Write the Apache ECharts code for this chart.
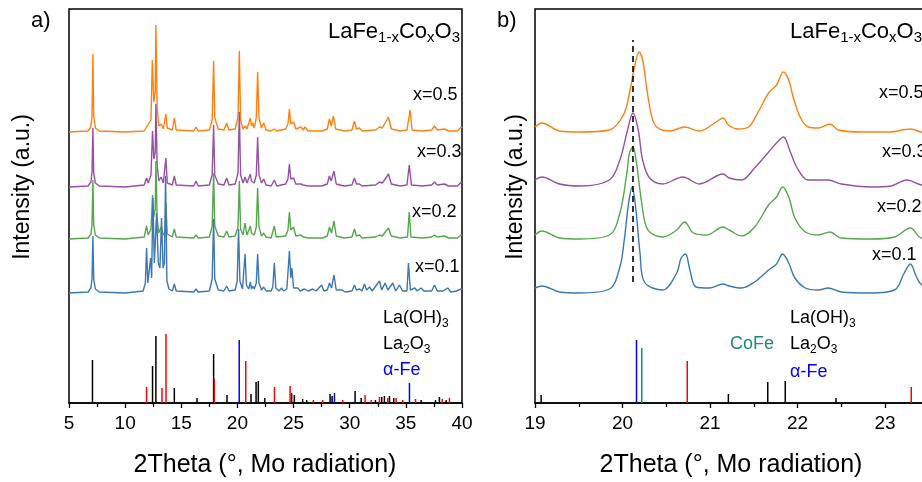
<!DOCTYPE html>
<html>
<head>
<meta charset="utf-8">
<script src="https://cdn.jsdelivr.net/npm/echarts@6/dist/echarts.min.js"></script>
<style>
  html, body { margin: 0; padding: 0; background: #fff; }
  #chart { width: 922px; height: 482px; }
</style>
</head>
<body>
<div id="chart"></div>
<script>
// ---- data (intensity in a.u.; 2theta in degrees) ----
var sampleNames = ['x=0.1', 'x=0.2', 'x=0.3', 'x=0.5']
var sampleColors = ['#3b78b3', '#55a64c', '#9650a2', '#ff8010']
var sampleOffsets = [110, 164, 216, 271]

// panel a) full patterns 5-40 deg
var fullX01 = [[5,0],[6.7,1],[6.95,5],[7.05,14],[7.13,57],[7.2,14],[7.35,4],[7.7,1],[10,0],[11.6,2],[11.8,10],[11.91,45],[12.02,10],[12.15,12],[12.27,35],[12.36,15],[12.47,95],[12.6,30],[12.8,80],[12.95,30],[13.1,25],[13.24,75],[13.38,25],[13.5,30],[13.6,117],[13.72,12],[13.9,4],[14.2,2],[14.38,9],[14.55,2],[16.1,1],[16.31,4],[16.5,1],[17.5,2],[17.75,14],[17.88,74],[17.98,14],[18.3,3],[18.8,2],[19.04,7],[19.25,2],[19.8,3],[19.98,12],[20.1,64],[20.22,12],[20.45,4],[20.68,39],[20.8,8],[21.0,4],[21.15,11],[21.25,4],[21.36,7],[21.5,4],[21.68,10],[21.8,39],[21.92,10],[22.15,3],[22.34,6],[22.55,2],[23.0,2],[23.15,6],[23.29,30],[23.42,5],[23.7,2],[23.94,5],[24.1,2],[24.4,4],[24.63,42],[24.75,15],[24.85,25],[25.0,5],[25.37,5],[25.6,2],[25.96,4],[26.3,2],[26.7,4],[27.0,2],[27.5,8],[27.7,2],[28.0,3],[28.2,10],[28.38,5],[28.6,18],[28.8,3],[29.29,3],[29.6,1],[30.2,2],[30.42,8],[30.6,3],[30.87,4],[31.1,2],[31.31,9],[31.5,3],[31.76,6],[32.0,2],[32.65,12],[32.85,3],[33.15,10],[33.4,3],[33.83,10],[34.1,2],[34.43,8],[34.7,2],[35.1,2],[35.23,30],[35.4,3],[35.8,5],[36.0,2],[36.36,5],[36.6,2],[37.3,2],[37.55,8],[37.8,2],[38.3,2],[38.73,5],[39.0,1],[39.5,2],[39.93,4],[40,3]]
var fullX02 = [[5,0],[6.7,1],[6.95,5],[7.05,14],[7.13,59],[7.2,14],[7.35,4],[7.7,1],[10,0],[11.7,2],[11.91,13],[12.05,4],[12.3,10],[12.44,44],[12.55,22],[12.68,30],[12.74,78],[12.85,20],[13.0,6],[13.2,12],[13.4,4],[13.55,7],[13.63,36],[13.75,5],[14.2,2],[14.38,10],[14.55,2],[16.1,1],[16.31,4],[16.5,1],[17.5,2],[17.75,13],[17.88,66],[17.98,13],[18.3,3],[18.8,2],[19.04,8],[19.25,2],[19.8,3],[20.05,12],[20.17,58],[20.28,10],[20.5,4],[20.68,16],[20.85,4],[21.15,13],[21.25,6],[21.36,8],[21.5,4],[21.68,12],[21.8,51],[21.92,12],[22.15,3],[22.34,6],[22.55,2],[23.0,1],[23.29,13],[23.45,2],[24.3,3],[24.5,9],[24.63,27],[24.75,9],[25.0,12],[25.2,3],[25.67,4],[25.85,2],[26.02,4],[26.3,1],[27.3,1],[27.45,3],[27.6,1],[28.0,3],[28.2,12],[28.38,6],[28.6,18],[28.8,3],[29.5,1],[30.2,2],[30.42,10],[30.6,3],[30.87,4],[31.1,1],[32.3,2],[32.65,4],[32.9,3],[33.1,6],[33.45,11],[33.7,3],[34.5,1],[35.15,2],[35.3,27],[35.45,2],[36.5,1],[37.3,2],[37.55,4],[37.8,2],[38.44,3],[38.8,1],[39.6,1],[39.93,4],[40,4]]
var fullX03 = [[5,0],[6.7,1],[6.95,5],[7.05,14],[7.13,59],[7.2,14],[7.35,4],[7.7,1],[10,0],[11.7,2],[11.91,9],[12.05,4],[12.3,12],[12.44,56],[12.55,28],[12.68,35],[12.74,83],[12.85,22],[13.0,6],[13.2,10],[13.4,4],[13.55,6],[13.63,29],[13.75,4],[14.2,2],[14.38,11],[14.55,2],[16.1,1],[16.31,6],[16.5,1],[17.5,2],[17.75,12],[17.88,62],[17.98,12],[18.3,3],[18.8,2],[19.04,9],[19.25,2],[19.8,3],[20.05,14],[20.17,75],[20.28,12],[20.5,4],[20.68,10],[20.85,4],[21.15,13],[21.25,6],[21.36,8],[21.5,4],[21.68,12],[21.8,50],[21.92,12],[22.15,4],[22.34,8],[22.55,2],[23.0,1],[23.29,7],[23.5,1],[24.3,3],[24.5,8],[24.63,23],[24.75,8],[25.0,9],[25.2,3],[25.67,3],[25.85,2],[26.02,3],[26.3,1],[27.5,1],[28.0,3],[28.19,11],[28.35,6],[28.6,16],[28.8,3],[29.5,1],[30.2,2],[30.42,9],[30.6,3],[30.87,3],[31.1,1],[32.3,2],[32.65,5],[32.9,4],[33.1,7],[33.45,13],[33.7,3],[34.5,1],[35.1,2],[35.3,22],[35.5,2],[36.5,1],[37.3,2],[37.55,5],[37.8,2],[38.44,3],[38.8,1],[39.6,1],[39.93,5],[40,4]]
var fullX05 = [[5,0],[6.7,1],[6.95,5],[7.05,16],[7.13,78],[7.2,16],[7.35,4],[7.7,1],[10,0],[11.7,1],[11.91,5],[12.05,3],[12.3,12],[12.42,72],[12.55,30],[12.68,40],[12.74,107],[12.85,25],[13.0,6],[13.2,8],[13.4,3],[13.55,5],[13.63,18],[13.75,4],[14.2,2],[14.38,14],[14.55,2],[16.1,1],[16.31,5],[16.5,1],[17.5,2],[17.75,12],[17.88,71],[17.98,14],[18.3,3],[18.8,2],[19.04,9],[19.25,2],[19.8,3],[20.05,15],[20.17,81],[20.28,12],[20.5,3],[20.68,6],[20.85,3],[21.15,14],[21.25,6],[21.36,9],[21.5,4],[21.68,14],[21.8,60],[21.92,14],[22.15,4],[22.34,9],[22.55,2],[23.0,1],[23.29,3],[23.5,1],[24.3,3],[24.5,8],[24.63,23],[24.75,8],[25.01,10],[25.2,3],[25.67,5],[25.85,2],[26.02,5],[26.3,1],[27.5,1],[28.0,3],[28.19,13],[28.35,6],[28.55,16],[28.75,3],[29.5,1],[30.2,2],[30.42,11],[30.6,3],[30.87,4],[31.1,1],[32.3,2],[32.65,5],[32.9,4],[33.1,8],[33.45,15],[33.7,3],[34.5,1],[35.1,2],[35.38,22],[35.55,2],[36.5,1],[37.3,2],[37.55,6],[37.8,2],[38.44,3],[38.8,1],[39.6,1],[39.93,5],[40,4]]

// panel b) zoomed patterns 19-24 deg
var zoomX01 = [[19.0,5],[19.08,7],[19.28,1],[19.51,0],[19.85,4],[19.97,26],[20.02,53],[20.07,90],[20.11,106],[20.15,86],[20.2,40],[20.25,11],[20.46,3],[20.62,20],[20.67,35],[20.72,39],[20.77,23],[20.84,6],[21.0,5],[21.15,9],[21.22,7],[21.36,5],[21.51,11],[21.67,23],[21.76,29],[21.83,39],[21.9,30],[21.97,15],[22.09,5],[22.24,3],[22.35,5],[22.5,1],[22.84,0],[23.11,3],[23.22,20],[23.29,29],[23.36,16],[23.42,8],[23.6,2],[24,1]]
var zoomX02 = [[19.0,4],[19.08,8],[19.28,1],[19.51,0],[19.85,4],[19.97,26],[20.05,66],[20.08,86],[20.12,92],[20.16,76],[20.22,36],[20.29,9],[20.46,2],[20.62,9],[20.71,17],[20.81,6],[20.96,4],[21.15,12],[21.22,9],[21.36,3],[21.51,12],[21.67,34],[21.76,42],[21.83,52],[21.9,42],[21.97,21],[22.09,7],[22.24,4],[22.37,7],[22.5,1],[22.84,0],[23.11,2],[23.29,11],[23.42,1],[23.6,1],[24,1]]
var zoomX03 = [[19.0,7],[19.08,10],[19.28,3],[19.51,1],[19.85,7],[19.97,27],[20.05,54],[20.12,74],[20.18,57],[20.23,27],[20.31,9],[20.46,3],[20.69,10],[20.88,3],[21.15,13],[21.22,9],[21.36,7],[21.51,19],[21.67,35],[21.76,44],[21.84,50],[21.91,37],[21.99,20],[22.12,7],[22.24,7],[22.35,7],[22.5,3],[22.84,0],[23.07,1],[23.25,7],[23.42,2],[23.6,1],[24,1]]
var zoomX05 = [[19.0,5],[19.08,9],[19.28,1],[19.51,0],[19.85,2],[20.01,17],[20.08,39],[20.13,62],[20.19,80],[20.23,72],[20.28,42],[20.33,17],[20.39,5],[20.54,1],[20.71,5],[20.88,1],[21.07,10],[21.15,14],[21.21,7],[21.32,3],[21.44,5],[21.55,20],[21.67,39],[21.76,47],[21.84,60],[21.9,52],[21.95,35],[22.03,15],[22.12,5],[22.24,4],[22.37,8],[22.47,2],[22.73,0],[23.04,0],[23.3,3],[23.42,0],[23.6,0],[24,0]]

// reference stick patterns [2theta, relative height]
var laOH3Sticks = [[7.09,43],[12.44,37],[12.74,67],[14.38,15],[16.4,5],[17.88,49],[19.07,8],[21.21,9],[21.66,21],[21.86,22],[22.44,5],[24.83,10],[25.07,8],[25.81,4],[26.17,3],[28.25,9],[28.43,7],[30.48,12],[31.02,5],[32.29,3],[32.85,6],[33.09,7],[33.54,7],[33.92,5],[36.36,3],[37.64,3],[37.99,6],[38.59,3]]
var la2O3Sticks = [[11.91,16],[13.28,15],[13.64,69],[17.94,24],[20.74,42],[23.3,16],[24.69,17],[26.76,3],[27.59,3],[29.38,3],[31.37,8],[31.91,3],[32.65,6],[33.39,5],[34.13,5],[34.72,3],[35.86,4],[38.24,4],[38.88,5]]
var alphaFeSticks = [[20.16,63],[28.64,10],[35.32,20]]
var coFeSticks = [[20.22,55]]

var peakMarkX = 20.12
var peakMarkRange = [121, 363]

var fullTicks = { min: 5, max: 40, interval: 5 }
var zoomTicks = { min: 19, max: 24, interval: 1 }

// ---- chart ----
var FONT = 'Liberation Sans'
var chart = echarts.init(document.getElementById('chart'), null, { renderer: 'canvas' })

function xAxisOf(idx, t) {
  return {
    type: 'value', gridIndex: idx, min: t.min, max: t.max, interval: t.interval,
    axisLine: { onZero: false, lineStyle: { color: '#000', width: 1.5 } },
    axisTick: { inside: false, length: 5, lineStyle: { color: '#000', width: 1.3 } },
    minorTick: { show: true, splitNumber: 2, length: 4, lineStyle: { color: '#000', width: 1.3 } },
    axisLabel: { color: '#000', fontFamily: FONT, fontSize: 19, margin: 11 },
    splitLine: { show: false }
  }
}
function yAxisOf(idx) {
  return { type: 'value', gridIndex: idx, min: 0, max: 394, show: false, splitLine: { show: false } }
}

function stickSeries(data, color, idx) {
  return {
    type: 'custom', xAxisIndex: idx, yAxisIndex: idx, clip: true, silent: true,
    data: data,
    renderItem: function (params, api) {
      var top = api.coord([api.value(0), api.value(1)])
      var base = api.coord([api.value(0), 0])
      return {
        type: 'line',
        shape: { x1: top[0], y1: top[1], x2: base[0], y2: base[1] },
        style: { stroke: color, lineWidth: 1.5 }
      }
    }
  }
}

function traceSeries(pts, i, idx, smooth) {
  return {
    type: 'line', xAxisIndex: idx, yAxisIndex: idx, name: sampleNames[i],
    data: pts.map(function (p) { return [p[0], p[1] + sampleOffsets[i]] }),
    symbol: 'none', smooth: smooth, clip: true, silent: true,
    lineStyle: { color: sampleColors[i], width: 1.4 }
  }
}

var fullSets = [fullX01, fullX02, fullX03, fullX05]
var zoomSets = [zoomX01, zoomX02, zoomX03, zoomX05]

var series = [
  stickSeries(laOH3Sticks, '#000', 0),
  stickSeries(la2O3Sticks, '#ff0000', 0),
  stickSeries(alphaFeSticks, '#0000ff', 0),
  stickSeries(laOH3Sticks, '#000', 1),
  stickSeries(la2O3Sticks, '#ff0000', 1),
  stickSeries(alphaFeSticks, '#0000ff', 1),
  stickSeries(coFeSticks, '#1b8a7c', 1)
]
// top trace drawn first, lower traces over it
for (var i = 3; i >= 0; i--) series.push(traceSeries(fullSets[i], i, 0, false))
for (var j = 3; j >= 0; j--) series.push(traceSeries(zoomSets[j], j, 1, 0.35))
series.push({
  type: 'line', xAxisIndex: 1, yAxisIndex: 1, symbol: 'none', silent: true,
  data: [[peakMarkX, peakMarkRange[0]], [peakMarkX, peakMarkRange[1]]],
  lineStyle: { color: '#000', width: 1.6, type: [6, 4] }
})

// text helpers
function txt(x, y, text, opts) {
  opts = opts || {}
  return {
    type: 'text', x: x, y: y, rotation: opts.rotation || 0, z: 100,
    style: {
      text: text, fill: opts.color || '#000', fontFamily: FONT, fontSize: opts.size || 18,
      align: opts.align || 'left', verticalAlign: 'middle', rich: opts.rich
    }
  }
}
function subRich(size, color) {
  return {
    m: { fontFamily: FONT, fontSize: size, color: color, lineHeight: size + 8 },
    s: { fontFamily: FONT, fontSize: Math.round(size * 0.68), color: color, lineHeight: size + 8, padding: [12, 0, 0, 0] }
  }
}
var formula = '{m|LaFe}{s|1-x}{m|Co}{s|x}{m|O}{s|3}'
var laOH3Label = '{m|La(OH)}{s|3}'
var la2O3Label = '{m|La}{s|2}{m|O}{s|3}'

var graphics = [
  txt(31, 21, 'a)', { size: 22 }),
  txt(497, 21, 'b)', { size: 22 }),
  txt(23, 187, 'Intensity (a.u.)', { size: 23, align: 'center', rotation: Math.PI / 2 }),
  txt(516, 187, 'Intensity (a.u.)', { size: 23, align: 'center', rotation: Math.PI / 2 }),
  txt(265, 465, '2Theta (°, Mo radiation)', { size: 25, align: 'center' }),
  txt(731, 465, '2Theta (°, Mo radiation)', { size: 25, align: 'center' }),
  txt(460, 32, formula, { align: 'right', rich: subRich(22, '#000') }),
  txt(790, 32, formula, { rich: subRich(22, '#000') }),
  txt(413, 95, sampleNames[3], { size: 18 }),
  txt(417, 152, sampleNames[2], { size: 18 }),
  txt(412, 212, sampleNames[1], { size: 18 }),
  txt(415, 267, sampleNames[0], { size: 18 }),
  txt(879, 93, sampleNames[3], { size: 18 }),
  txt(882, 152, sampleNames[2], { size: 18 }),
  txt(877, 207, sampleNames[1], { size: 18 }),
  txt(872, 255, sampleNames[0], { size: 18 }),
  txt(383, 318, laOH3Label, { rich: subRich(18, '#000') }),
  txt(383, 344, la2O3Label, { rich: subRich(18, '#ff0000') }),
  txt(383, 370, 'α-Fe', { size: 18, color: '#0000ff' }),
  txt(790, 318, laOH3Label, { rich: subRich(18, '#000') }),
  txt(730, 344, 'CoFe', { size: 18, color: '#1b8a7c' }),
  txt(790, 344, la2O3Label, { rich: subRich(18, '#ff0000') }),
  txt(790, 372, 'α-Fe', { size: 18, color: '#0000ff' })
]

chart.setOption({
  animation: false,
  backgroundColor: '#fff',
  grid: [
    { left: 69, top: 9, width: 393, height: 394, outerBoundsMode: 'none', containLabel: false, show: true, borderColor: '#000', borderWidth: 1.5, backgroundColor: 'transparent' },
    { left: 535, top: 9, width: 437.5, height: 394, outerBoundsMode: 'none', containLabel: false, show: true, borderColor: '#000', borderWidth: 1.5, backgroundColor: 'transparent' }
  ],
  xAxis: [xAxisOf(0, fullTicks), xAxisOf(1, zoomTicks)],
  yAxis: [yAxisOf(0), yAxisOf(1)],
  series: series,
  graphic: graphics
})
</script>
</body>
</html>
